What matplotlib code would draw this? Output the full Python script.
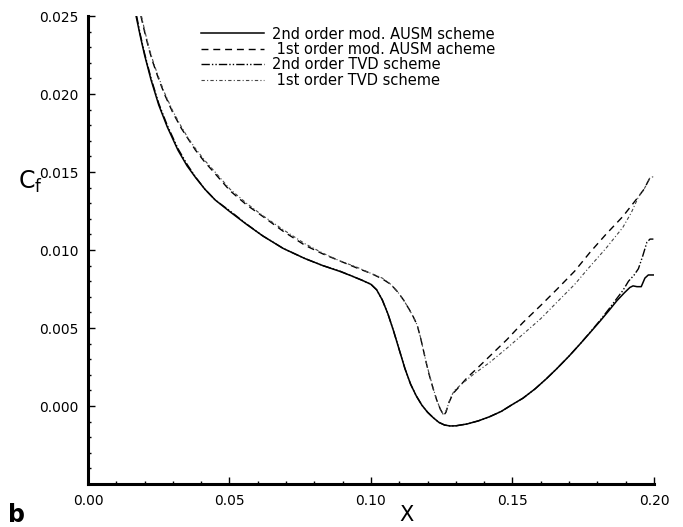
import matplotlib
matplotlib.use("Agg")
import matplotlib.pyplot as plt
from matplotlib.ticker import MultipleLocator, FixedLocator

plt.rcParams['font.family'] = ['DejaVu Sans']

# Skin-friction coefficient along the wall for four discretisation schemes
x_ausm2 = [0.0170, 0.0185, 0.0200, 0.0223, 0.0250, 0.0280, 0.0318, 0.0350, 0.0380,
           0.0413, 0.0450, 0.0502, 0.0560, 0.0618, 0.0690, 0.0767, 0.0830, 0.0890,
           0.0930, 0.0970, 0.1000, 0.1020, 0.1040, 0.1060, 0.1080, 0.1100, 0.1120,
           0.1140, 0.1160, 0.1180, 0.1200, 0.1220, 0.1240, 0.1260, 0.1280, 0.1300,
           0.1340, 0.1380, 0.1420, 0.1460, 0.1500, 0.1537, 0.1580, 0.1620, 0.1657,
           0.1700, 0.1740, 0.1774, 0.1810, 0.1840, 0.1869, 0.1895, 0.1915, 0.1926,
           0.1940, 0.1955, 0.1968, 0.1980, 0.1998]
cf_ausm2 = [0.0250, 0.0237, 0.0225, 0.0209, 0.0193, 0.0179, 0.0164, 0.0154, 0.01465,
            0.0139, 0.0132, 0.01245, 0.01165, 0.0109, 0.0101, 0.00945, 0.0090, 0.00863,
            0.00835, 0.00805, 0.0078, 0.00745, 0.0068, 0.0059, 0.0048, 0.0036, 0.0024,
            0.0014, 0.00065, 0.00005, -0.0004, -0.00075, -0.00105, -0.00122, -0.00128, -0.00127,
            -0.00115, -0.00095, -0.00068, -0.00035, 0.0001, 0.0005, 0.0011, 0.00175, 0.0024,
            0.0032, 0.0040, 0.0047, 0.00545, 0.0061, 0.00675, 0.00725, 0.0076, 0.0077,
            0.00765, 0.00765, 0.0082, 0.0084, 0.0084]

x_ausm1 = [0.0187, 0.0200, 0.0215, 0.0230, 0.0247, 0.0270, 0.0300, 0.0330, 0.0353,
           0.0380, 0.0410, 0.0449, 0.0502, 0.0560, 0.0618, 0.0690, 0.0767, 0.0830,
           0.0890, 0.0950, 0.1000, 0.1040, 0.1070, 0.1095, 0.1115, 0.1135, 0.1150,
           0.1163, 0.1175, 0.1185, 0.1195, 0.1205, 0.1219, 0.1232, 0.1245, 0.1257,
           0.1265, 0.1275, 0.1290, 0.1310, 0.1339, 0.1380, 0.1420, 0.1480, 0.1537,
           0.1600, 0.1657, 0.1720, 0.1774, 0.1830, 0.1890, 0.1940, 0.1965, 0.1986,
           0.1998]
cf_ausm1 = [0.0250, 0.0240, 0.0229, 0.0220, 0.0211, 0.0200, 0.0188, 0.0178, 0.01715,
            0.0164, 0.0157, 0.0149, 0.0138, 0.0129, 0.01215, 0.0112, 0.0103, 0.00975,
            0.0093, 0.00885, 0.0085, 0.00815, 0.0078, 0.0073, 0.0068, 0.0062, 0.0057,
            0.0052, 0.0044, 0.0036, 0.0028, 0.00205, 0.00115, 0.0004, -0.0002, -0.0006,
            -0.0004, 0.0002, 0.0008, 0.0012, 0.0018, 0.0025, 0.0032, 0.00425, 0.00535,
            0.00645, 0.00748, 0.00865, 0.00985, 0.0110, 0.01215, 0.0133, 0.0139, 0.01464,
            0.0147]

x_tvd2 = [0.0172, 0.0185, 0.0200, 0.0223, 0.0250, 0.0280, 0.0318, 0.0350, 0.0380,
          0.0413, 0.0450, 0.0502, 0.0560, 0.0618, 0.0690, 0.0767, 0.0830, 0.0890,
          0.0930, 0.0970, 0.1000, 0.1020, 0.1040, 0.1060, 0.1080, 0.1100, 0.1120,
          0.1140, 0.1160, 0.1180, 0.1200, 0.1220, 0.1240, 0.1260, 0.1280, 0.1300,
          0.1340, 0.1380, 0.1420, 0.1460, 0.1500, 0.1537, 0.1580, 0.1620, 0.1657,
          0.1700, 0.1740, 0.1774, 0.1810, 0.1840, 0.1869, 0.1890, 0.1910, 0.1930,
          0.1945, 0.1960, 0.1975, 0.1986, 0.1998]
cf_tvd2 = [0.0250, 0.0238, 0.0226, 0.0210, 0.0194, 0.0180, 0.0165, 0.0155, 0.01468,
           0.0139, 0.0132, 0.0125, 0.01167, 0.0109, 0.0101, 0.00945, 0.0090, 0.00865,
           0.00835, 0.00805, 0.0078, 0.00745, 0.0068, 0.0059, 0.0048, 0.0036, 0.0024,
           0.0014, 0.00065, 0.00005, -0.0004, -0.00075, -0.00105, -0.00122, -0.00128, -0.00127,
           -0.00115, -0.00095, -0.00068, -0.00035, 0.0001, 0.0005, 0.0011, 0.00175, 0.0024,
           0.0032, 0.0040, 0.00472, 0.0055, 0.0062, 0.0069, 0.0074, 0.0080, 0.0084,
           0.0088, 0.0096, 0.0105, 0.0107, 0.0107]

x_tvd1 = [0.0189, 0.0200, 0.0215, 0.0230, 0.0247, 0.0270, 0.0300, 0.0330, 0.0353,
          0.0380, 0.0410, 0.0449, 0.0502, 0.0560, 0.0618, 0.0690, 0.0767, 0.0830,
          0.0890, 0.0950, 0.1000, 0.1040, 0.1070, 0.1095, 0.1115, 0.1135, 0.1150,
          0.1163, 0.1175, 0.1185, 0.1195, 0.1205, 0.1219, 0.1232, 0.1245, 0.1257,
          0.1268, 0.1280, 0.1295, 0.1320, 0.1360, 0.1420, 0.1480, 0.1537, 0.1600,
          0.1657, 0.1720, 0.1774, 0.1830, 0.1890, 0.1920, 0.1945, 0.1965, 0.1986,
          0.1998]
cf_tvd1 = [0.0250, 0.0241, 0.0230, 0.0221, 0.0212, 0.0201, 0.0189, 0.0179, 0.01720,
           0.0165, 0.0158, 0.0150, 0.0139, 0.0130, 0.0122, 0.0113, 0.0104, 0.0098,
           0.0093, 0.0089, 0.0085, 0.0082, 0.0078, 0.0073, 0.0068, 0.0062, 0.0057,
           0.0052, 0.0044, 0.0036, 0.0028, 0.0021, 0.0012, 0.0004, -0.0002, -0.0006,
           -0.0002, 0.0005, 0.0010, 0.0014, 0.0020, 0.0028, 0.0037, 0.0046, 0.0056,
           0.00665, 0.0078, 0.00895, 0.0101, 0.01145, 0.0124, 0.0134, 0.0139, 0.01464,
           0.0147]

labels = ["2nd order mod. AUSM scheme",
          " 1st order mod. AUSM acheme",
          "2nd order TVD scheme",
          " 1st order TVD scheme"]

x_ticks = [0.00, 0.05, 0.10, 0.15, 0.20]
y_ticks = [0.000, 0.005, 0.010, 0.015, 0.020, 0.025]

fig = plt.figure(figsize=(6.83, 5.27), dpi=100)
ax = fig.add_axes([0.1288, 0.0816, 0.8287, 0.888])

ax.plot(x_ausm2, cf_ausm2, color='black', lw=1.1, ls='-', label=labels[0])
ax.plot(x_ausm1, cf_ausm1, color='black', lw=1.0, ls=(0, (5, 3.5)), label=labels[1])
ax.plot(x_tvd2, cf_tvd2, color='black', lw=1.0,
        ls=(0, (6, 1.5, 1, 1.5, 1, 1.5)), label=labels[2])
ax.plot(x_tvd1, cf_tvd1, color='#444444', lw=0.8,
        ls=(0, (3, 2, 1, 2)), label=labels[3])

ax.set_xlim(0.0, 0.20)
ax.set_ylim(-0.005, 0.025)

ax.xaxis.set_major_locator(FixedLocator(x_ticks))
ax.xaxis.set_minor_locator(MultipleLocator(0.01))
ax.yaxis.set_major_locator(FixedLocator(y_ticks))
ax.yaxis.set_minor_locator(MultipleLocator(0.001))
ax.set_xticklabels([f"{v:.2f}" for v in x_ticks])
ax.set_yticklabels([f"{v:.3f}" for v in y_ticks])

for side in ('top', 'right'):
    ax.spines[side].set_visible(False)
for side in ('left', 'bottom'):
    ax.spines[side].set_linewidth(2.2)

ax.tick_params(which='major', direction='in', length=5, width=1,
               labelsize=10, pad=7, top=False, right=False)
ax.tick_params(which='minor', direction='in', length=2.5, width=1,
               top=False, right=False)

fig.text(0.595, 0.022, "X", fontsize=15, ha='center', va='center')
fig.text(0.045, 0.655, r"C$_\mathregular{f}$", fontsize=17, ha='center', va='center')
fig.text(0.024, 0.022, "b", fontsize=17, fontweight='bold', ha='center', va='center')

leg = ax.legend(loc='upper left', bbox_to_anchor=(0.19, 0.99), frameon=False,
                fontsize=10.5, handlelength=4.3, handletextpad=0.55,
                labelspacing=0.03, borderaxespad=0)

fig.savefig("out.png", dpi=100)
